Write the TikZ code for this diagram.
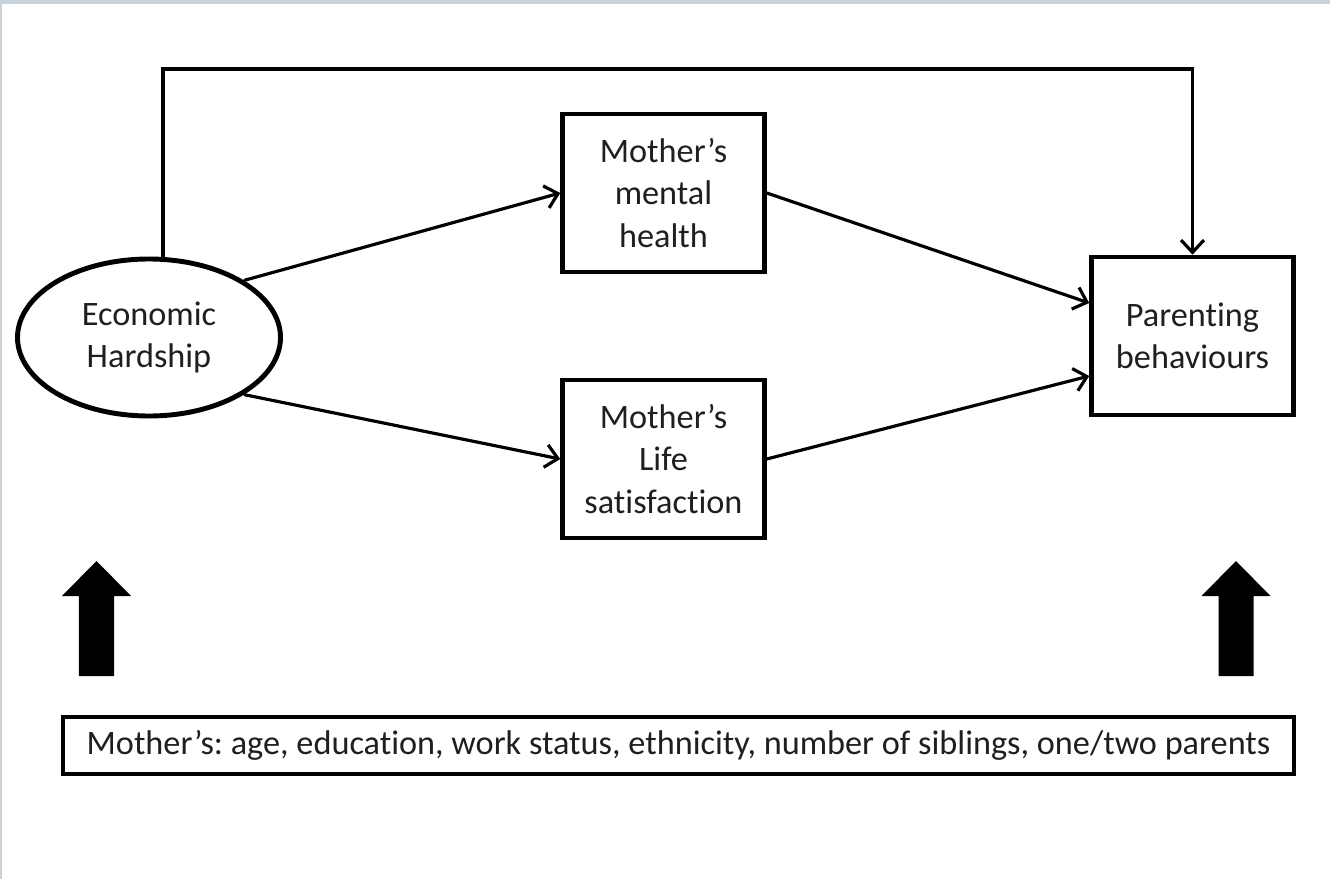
\documentclass[tikz,border=0pt]{standalone}
\usepackage{fontspec}
\setmainfont[Ligatures=NoCommon]{Carlito}
\usepackage{tikz}
\usetikzlibrary{arrows.meta, shapes.geometric}
\definecolor{frame}{HTML}{C8D2DA}
\frenchspacing

\begin{document}
\begin{tikzpicture}[
        box/.style={draw, line width=2.6pt, align=center, minimum width=4.04cm, minimum height=3.16cm},
        conn/.style={line width=1.8pt, -{Straight Barb[length=7pt, width=13pt, line width=1.8pt]}},
        font=\fontsize{19.5}{24}\selectfont, text=black!88
    ]
        \useasboundingbox (0,0) rectangle (26.6,-17.58);
        \fill[frame] (0,0) rectangle (26.6,-0.08);
        \fill[frame] (0,0) rectangle (0.04,-17.58);

        \node[draw, ellipse, line width=2.8pt, align=center, minimum width=5.26cm, minimum height=3.14cm] (hard) at (2.98,-6.75) {Economic\\Hardship};
        \node[box] (ment) at (13.27,-3.86) {Mother’s\\mental\\health};
        \node[box] (life) at (13.27,-9.18) {Mother’s\\Life\\satisfaction};
        \node[box] (par) at (23.85,-6.72) {Parenting\\behaviours};
        \node[draw, line width=2.6pt, minimum width=24.62cm, minimum height=1.14cm] (cov) at (13.57,-14.91) {Mother’s: age, education, work status, ethnicity, number of siblings, one/two parents};

        \coordinate (turn) at (23.85,-1.38);
        \draw[conn] ([xshift=0.28cm]hard.north) |- (turn) -- (par.north);

        \draw[conn] (hard.31) -- (ment.west);
        \draw[conn] (hard.-31) -- (life.west);
        \draw[conn] (ment.east) -- ([yshift=0.66cm]par.west);
        \draw[conn] (life.east) -- ([yshift=-0.8cm]par.west);

        % block arrows
        \foreach \x in {1.93, 24.72} {
            \fill (\x,-11.22) -- (\x+0.69,-11.92) -- (\x+0.35,-11.92) -- (\x+0.35,-13.52)
                -- (\x-0.35,-13.52) -- (\x-0.35,-11.92) -- (\x-0.69,-11.92) -- cycle;
        }

    \end{tikzpicture}
\end{document}
